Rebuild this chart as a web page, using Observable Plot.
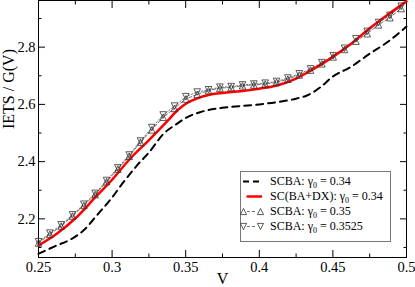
<!DOCTYPE html>
<html><head><meta charset="utf-8">
<script src="https://cdn.jsdelivr.net/npm/d3@7"></script>
<script src="https://cdn.jsdelivr.net/npm/@observablehq/plot@0.6"></script>
<style>
html,body{margin:0;padding:0;background:#fff;}
#wrap{position:relative;width:415px;height:287px;font-family:"Liberation Serif",serif;}
#wrap svg.plot{position:absolute;left:0;top:0;font-family:"Liberation Serif",serif !important;}
#wrap svg.plot text{font-family:"Liberation Serif",serif !important;}
#legend{position:absolute;left:240px;top:171px;width:151px;height:71px;border:1px solid #777;background:#fff;box-sizing:border-box;font-size:12px;color:#000;}
.row{position:absolute;left:0;height:15px;display:flex;align-items:center;}
.row svg{width:28px;height:15px;flex:none;overflow:visible;}
.row span{margin-left:1px;white-space:nowrap;line-height:15px;}
.row sub{font-size:8px;vertical-align:-3px;line-height:0;}
</style></head>
<body>
<div id="wrap"></div>
<script>
// ---- data ----
const dashedV = [0.25,0.2624,0.2714,0.2805,0.2896,0.3002,0.3077,0.3168,0.3252,0.3349,0.344,0.3501,0.3599,0.375,0.3871,0.4,0.412,0.425,0.4324,0.4415,0.4501,0.4619,0.475,0.4869,0.5];
const dashedY = [2.078,2.107,2.127,2.159,2.212,2.276,2.328,2.386,2.433,2.497,2.532,2.553,2.573,2.588,2.594,2.600,2.608,2.620,2.631,2.660,2.698,2.730,2.777,2.817,2.872];

const redV = [0.25,0.2624,0.2753,0.2896,0.3002,0.3122,0.3252,0.3372,0.345,0.3501,0.3578,0.3655,0.375,0.3871,0.4,0.412,0.425,0.4369,0.45,0.4619,0.475,0.4869,0.5];
const redY = [2.107,2.148,2.203,2.281,2.338,2.410,2.476,2.540,2.582,2.602,2.621,2.633,2.640,2.646,2.655,2.666,2.690,2.724,2.766,2.810,2.866,2.912,2.960];

const markV = [0.25,0.2577,0.2654,0.2731,0.2808,0.2885,0.2962,0.3039,0.3116,0.3193,0.327,0.3347,0.3424,0.3501,0.3578,0.3655,0.3732,0.3809,0.3886,0.3963,0.404,0.4117,0.4194,0.4271,0.4348,0.4425,0.4502,0.4579,0.4656,0.4733,0.481,0.4887,0.4964];
const upY = [2.116,2.146,2.175,2.210,2.247,2.285,2.330,2.374,2.419,2.468,2.511,2.555,2.586,2.619,2.635,2.648,2.657,2.659,2.665,2.668,2.671,2.677,2.688,2.703,2.720,2.742,2.766,2.792,2.821,2.847,2.878,2.903,2.935];
const downY = [2.120,2.150,2.179,2.214,2.251,2.289,2.334,2.378,2.423,2.472,2.519,2.563,2.594,2.627,2.643,2.651,2.660,2.662,2.668,2.671,2.674,2.680,2.692,2.707,2.724,2.746,2.770,2.796,2.829,2.855,2.886,2.911,2.943];

const xMajor = [0.25,0.3,0.35,0.4,0.45,0.5];
const xMinor = [0.275,0.325,0.375,0.425,0.475];
const yMajor = [2.2,2.4,2.6,2.8];
const yMinor = [2.1,2.3,2.5,2.7,2.9];
const xLabel = "V";
const yLabel = "IETS / G(V)";

// ---- tables ----
const dashed = dashedV.map((v,i)=>({V:v, y:dashedY[i]}));
const red = redV.map((v,i)=>({V:v, y:redY[i]}));
const up = markV.map((v,i)=>({V:v, y:upY[i]}));
const down = markV.map((v,i)=>({V:v, y:downY[i]}));

// bbox-centred triangles (xmgrace style)
const triUp = {draw(c, size){const r=Math.sqrt(size/Math.PI); c.moveTo(0,-r); c.lineTo(r,r); c.lineTo(-r,r); c.closePath();}};
const triDown = {draw(c, size){const r=Math.sqrt(size/Math.PI); c.moveTo(0,r); c.lineTo(r,-r); c.lineTo(-r,-r); c.closePath();}};

const font = "Liberation Serif";
const tickOpts = {stroke:"black", fill:"none", label:null, strokeWidth:1};

const chart = Plot.plot({
  width: 415, height: 287,
  marginLeft: 38, marginRight: 9, marginTop: 0, marginBottom: 30,
  style: {fontFamily: font, fontSize: "14.5px", background: "white", color: "black"},
  x: {domain: [0.25, 0.5], axis: null},
  y: {domain: [2.065, 2.963], axis: null},
  marks: [
    Plot.frame({stroke: "black", strokeWidth: 1}),
    // inward ticks on all four sides
    Plot.axisX(xMajor, {...tickOpts, anchor: "bottom", tickSize: -7}),
    Plot.axisX(xMinor, {...tickOpts, anchor: "bottom", tickSize: -3.5}),
    Plot.axisX(xMajor, {...tickOpts, anchor: "top", tickSize: -7}),
    Plot.axisX(xMinor, {...tickOpts, anchor: "top", tickSize: -3.5}),
    Plot.axisY(yMajor, {...tickOpts, anchor: "left", tickSize: -7}),
    Plot.axisY(yMinor, {...tickOpts, anchor: "left", tickSize: -3.5}),
    Plot.axisY(yMajor, {...tickOpts, anchor: "right", tickSize: -7}),
    Plot.axisY(yMinor, {...tickOpts, anchor: "right", tickSize: -3.5}),
    // tick labels
    Plot.axisX(xMajor, {anchor: "bottom", tickSize: 0, tickPadding: 4, tickFormat: d => String(d), label: null, fontSize: 14.5, fontFamily: font, fill: "black"}),
    Plot.axisY(yMajor, {anchor: "left", tickSize: 0, tickPadding: 3, tickFormat: d => String(d), label: null, fontSize: 14.5, fontFamily: font, fill: "black"}),
    // axis titles
    Plot.text([xLabel], {text: d => d, frameAnchor: "bottom", dy: 21, fontSize: 16, fontFamily: font, fill: "black", lineAnchor: "middle"}),
    Plot.text([yLabel], {text: d => d, frameAnchor: "left", dx: -30, rotate: -90, fontSize: 16, fontFamily: font, fill: "black", lineAnchor: "middle"}),
    // series
    Plot.line(dashed, {x: "V", y: "y", stroke: "black", strokeWidth: 2, strokeDasharray: "7,5", curve: "monotone-x"}),
    Plot.line(up, {x: "V", y: "y", stroke: "#333", strokeWidth: 0.7, strokeDasharray: "3,2"}),
    Plot.line(down, {x: "V", y: "y", stroke: "#333", strokeWidth: 0.7, strokeDasharray: "1.5,2"}),
    Plot.line(red, {x: "V", y: "y", stroke: "#ff0000", strokeWidth: 2.5, curve: "monotone-x"}),
    Plot.dot(up, {x: "V", y: "y", symbol: triUp, r: 3.3, stroke: "#333", strokeWidth: 0.8, fill: "none"}),
    Plot.dot(down, {x: "V", y: "y", symbol: triDown, r: 3.3, stroke: "#333", strokeWidth: 0.8, fill: "none"})
  ]
});
chart.classList.add("plot");
chart.querySelectorAll("text, g").forEach(el => {
  el.setAttribute("font-family", "Liberation Serif");
  el.style.fontFamily = "'Liberation Serif', serif";
});
const wrap = document.getElementById("wrap");
wrap.appendChild(chart);

// ---- legend ----
const legendItems = [
  {name: "SCBA", g: "0.34", kind: "dash"},
  {name: "SC(BA+DX)", g: "0.34", kind: "red"},
  {name: "SCBA", g: "0.35", kind: "up"},
  {name: "SCBA", g: "0.3525", kind: "down"}
];
const tri = (cx, cy, dir) => {
  const r = 3.1;
  return dir > 0
    ? `<path d="M${cx},${cy-r}L${cx+r},${cy+r}L${cx-r},${cy+r}Z" fill="none" stroke="#333" stroke-width="0.8"/>`
    : `<path d="M${cx},${cy+r}L${cx+r},${cy-r}L${cx-r},${cy-r}Z" fill="none" stroke="#333" stroke-width="0.8"/>`;
};
const sample = k => {
  if (k === "dash") return `<line x1="2" x2="18" y1="7.5" y2="7.5" stroke="black" stroke-width="2" stroke-dasharray="6,4"/>`;
  if (k === "red") return `<line x1="5.5" x2="21" y1="7.5" y2="7.5" stroke="#ff0000" stroke-width="2.5"/>`;
  const d = k === "up" ? 1 : -1;
  return `<line x1="6" x2="16" y1="7.5" y2="7.5" stroke="#333" stroke-width="0.7" stroke-dasharray="3,2"/>` + tri(2.5, 7.5, d) + tri(19.5, 7.5, d);
};
const legend = document.createElement("div");
legend.id = "legend";
legend.innerHTML = legendItems.map((it, i) =>
  `<div class="row" style="top:${1.5 + i*15.3}px"><svg viewBox="0 0 28 15">${sample(it.kind)}</svg><span>${it.name}: γ<sub>0</sub> = ${it.g}</span></div>`
).join("");
wrap.appendChild(legend);
</script>
</body></html>
